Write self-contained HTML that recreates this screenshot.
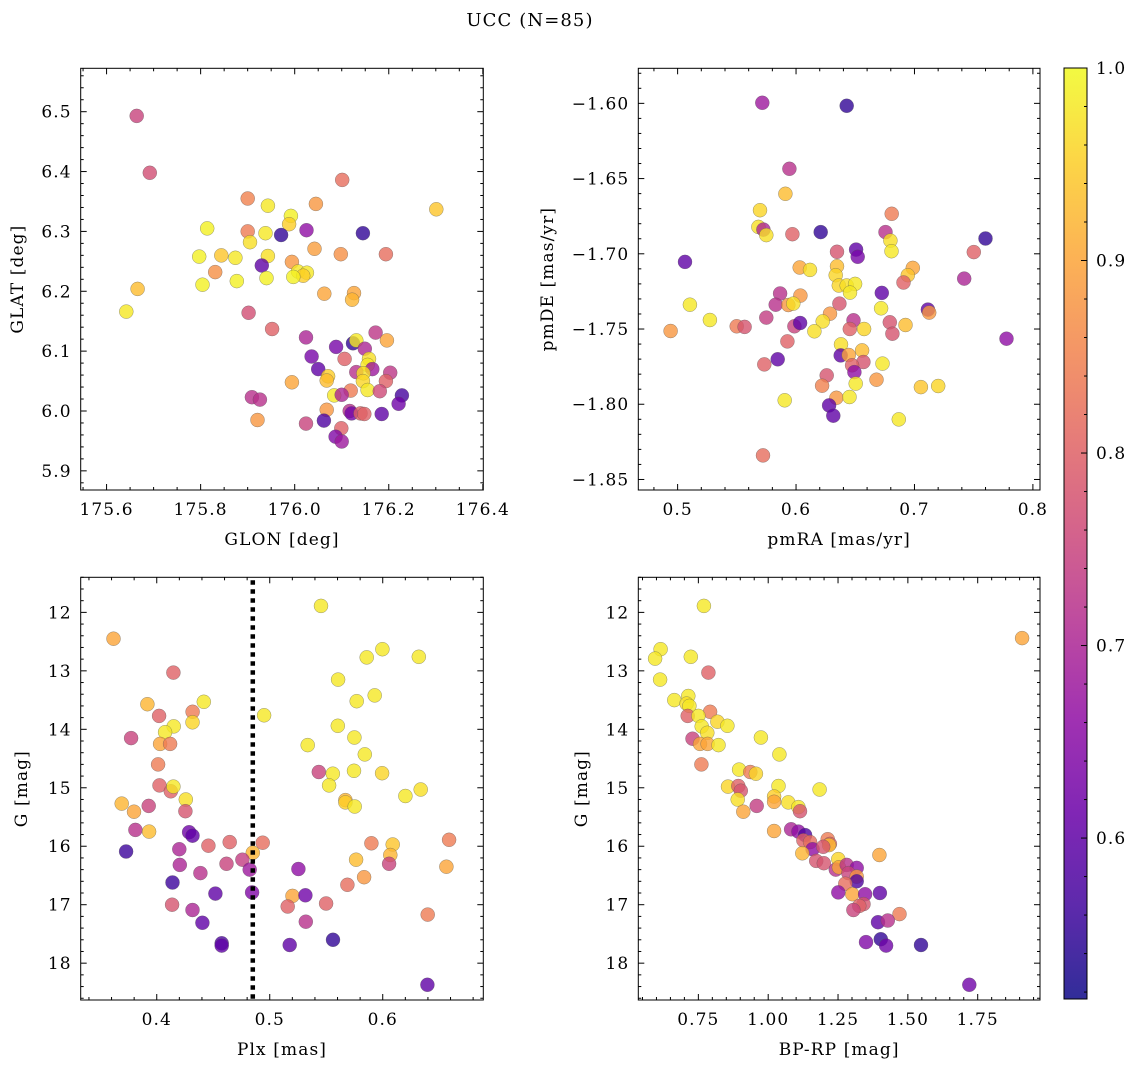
<!DOCTYPE html>
<html><head><meta charset="utf-8"><style>
html,body{margin:0;padding:0;background:#fff;}
svg{display:block;font-family:"DejaVu Serif","Liberation Serif",serif;}
svg text{letter-spacing:1.1px;}
</style></head><body>
<svg id="fig" width="1136" height="1067" xmlns="http://www.w3.org/2000/svg">
<text x="530" y="26" font-size="18" text-anchor="middle">UCC (N=85)</text>
</svg>
<script>
// Panel 1: GLON vs GLAT
const p1x=[175.664,175.692,176.101,175.900,175.943,176.045,176.301,175.992,175.988,175.814,176.025,175.900,175.938,175.971,176.145,175.905,176.042,175.797,175.844,175.874,175.943,176.098,176.194,175.930,175.994,175.831,176.007,176.026,176.018,175.997,175.940,175.877,175.804,175.666,176.063,176.126,176.122,175.642,175.902,175.952,176.024,176.172,176.124,176.131,176.196,176.088,176.149,176.036,176.106,176.158,176.155,176.165,176.050,176.131,176.146,176.203,176.071,176.068,176.145,176.194,175.994,176.228,176.155,176.181,176.119,176.084,176.100,175.909,175.926,176.221,176.068,176.117,176.121,176.140,176.148,176.185,175.921,176.024,176.062,176.099,176.087,176.100];
const p1y=[6.493,6.398,6.386,6.355,6.343,6.346,6.337,6.326,6.312,6.305,6.302,6.300,6.297,6.294,6.297,6.282,6.271,6.258,6.260,6.256,6.259,6.262,6.262,6.243,6.249,6.232,6.233,6.231,6.226,6.224,6.222,6.217,6.211,6.204,6.196,6.197,6.186,6.166,6.164,6.137,6.123,6.131,6.113,6.118,6.118,6.107,6.104,6.091,6.087,6.087,6.077,6.070,6.070,6.065,6.063,6.064,6.058,6.051,6.050,6.050,6.048,6.026,6.035,6.033,6.034,6.026,6.027,6.023,6.019,6.012,6.002,6.000,5.996,5.996,5.995,5.995,5.985,5.979,5.984,5.971,5.957,5.949];
const p1c=[0.75,0.77,0.82,0.85,0.98,0.88,0.94,0.99,0.95,0.99,0.66,0.84,0.98,0.55,0.55,0.97,0.89,0.99,0.94,0.98,0.97,0.87,0.82,0.60,0.88,0.87,0.98,0.98,0.95,0.99,0.99,0.99,0.99,0.93,0.90,0.90,0.92,0.98,0.77,0.80,0.70,0.73,0.55,0.98,0.90,0.63,0.70,0.63,0.80,0.97,0.98,0.68,0.60,0.72,0.97,0.73,0.95,0.93,0.96,0.80,0.90,0.57,0.98,0.76,0.84,0.98,0.70,0.72,0.72,0.62,0.88,0.72,0.62,0.80,0.80,0.60,0.88,0.75,0.58,0.80,0.64,0.68];
// Panel 2: pmRA vs pmDE
const p2x=[0.5715,0.6428,0.5944,0.5910,0.5696,0.6808,0.5682,0.5724,0.5749,0.5969,0.6208,0.6755,0.6797,0.7600,0.6806,0.6507,0.6521,0.6346,0.7501,0.5062,0.6031,0.6118,0.6346,0.6335,0.6986,0.6944,0.6907,0.6361,0.6428,0.6499,0.6456,0.7420,0.5865,0.6724,0.5104,0.5828,0.6037,0.5935,0.5977,0.6366,0.6718,0.7113,0.7124,0.5273,0.5749,0.6287,0.6225,0.4941,0.5499,0.5566,0.5986,0.6034,0.6155,0.6485,0.6454,0.6575,0.6792,0.6814,0.6924,0.7777,0.5927,0.6380,0.6377,0.6445,0.6558,0.6569,0.5732,0.5845,0.6473,0.6493,0.6730,0.6259,0.6220,0.6504,0.6679,0.7054,0.7200,0.6341,0.6451,0.5904,0.6279,0.6315,0.6868,0.5721];
const p2y=[-1.5996,-1.6016,-1.6435,-1.6601,-1.6710,-1.6734,-1.6821,-1.6839,-1.6876,-1.6870,-1.6856,-1.6856,-1.6912,-1.6898,-1.6983,-1.6972,-1.7020,-1.6987,-1.6989,-1.7054,-1.7091,-1.7107,-1.7083,-1.7142,-1.7094,-1.7142,-1.7191,-1.7211,-1.7211,-1.7200,-1.7258,-1.7165,-1.7264,-1.7260,-1.7338,-1.7338,-1.7278,-1.7340,-1.7331,-1.7331,-1.7362,-1.7371,-1.7391,-1.7440,-1.7424,-1.7398,-1.7449,-1.7513,-1.7482,-1.7486,-1.7482,-1.7460,-1.7515,-1.7442,-1.7500,-1.7500,-1.7455,-1.7531,-1.7473,-1.7564,-1.7582,-1.7602,-1.7675,-1.7673,-1.7642,-1.7719,-1.7735,-1.7701,-1.7741,-1.7786,-1.7730,-1.7808,-1.7877,-1.7863,-1.7837,-1.7886,-1.7879,-1.7957,-1.7952,-1.7974,-1.8008,-1.8076,-1.8101,-1.8340];
const p2c=[0.68,0.55,0.72,0.93,0.96,0.84,0.97,0.70,0.97,0.80,0.55,0.72,0.97,0.55,0.98,0.60,0.63,0.78,0.80,0.60,0.90,0.97,0.93,0.96,0.90,0.94,0.80,0.96,0.97,0.98,0.98,0.70,0.72,0.60,0.98,0.72,0.88,0.88,0.97,0.78,0.98,0.60,0.88,0.98,0.74,0.88,0.97,0.88,0.84,0.78,0.75,0.60,0.97,0.72,0.80,0.96,0.78,0.78,0.93,0.66,0.80,0.97,0.60,0.90,0.93,0.78,0.80,0.60,0.80,0.66,0.98,0.78,0.85,0.98,0.88,0.94,0.96,0.88,0.98,0.98,0.60,0.60,0.98,0.82];
// Panel 3: Plx vs G
const p3x=[0.5454,0.3617,0.5997,0.5858,0.6319,0.4147,0.5605,0.5929,0.5770,0.3917,0.4416,0.4317,0.4021,0.4950,0.4316,0.4150,0.5602,0.4074,0.3773,0.5749,0.4030,0.4118,0.5336,0.5841,0.4012,0.5434,0.5558,0.5746,0.5994,0.4024,0.5525,0.4124,0.4147,0.6336,0.3690,0.4257,0.5670,0.5670,0.5752,0.6201,0.3929,0.3799,0.4254,0.3811,0.3932,0.4286,0.4316,0.3729,0.4200,0.4457,0.4646,0.4938,0.4850,0.4758,0.4617,0.4204,0.4823,0.4386,0.5254,0.5900,0.6088,0.6067,0.6056,0.5764,0.6587,0.6563,0.5835,0.5687,0.4139,0.4519,0.4844,0.5201,0.5316,0.5159,0.5499,0.4136,0.4316,0.4404,0.5319,0.6398,0.4575,0.4575,0.5177,0.5560,0.6395];
const p3y=[11.89,12.45,12.63,12.77,12.76,13.03,13.15,13.42,13.52,13.57,13.53,13.70,13.77,13.76,13.88,13.95,13.94,14.05,14.15,14.14,14.25,14.25,14.27,14.43,14.60,14.73,14.76,14.71,14.75,14.96,14.96,15.06,14.98,15.03,15.27,15.20,15.21,15.25,15.32,15.14,15.31,15.41,15.40,15.72,15.75,15.76,15.82,16.09,16.05,15.99,15.93,15.94,16.11,16.23,16.30,16.32,16.40,16.46,16.39,15.95,15.97,16.15,16.30,16.23,15.89,16.35,16.53,16.66,16.62,16.81,16.79,16.85,16.84,17.03,16.98,17.00,17.09,17.31,17.29,17.17,17.66,17.70,17.69,17.60,18.37];
const p3c=[0.98,0.90,0.98,0.98,0.98,0.80,0.98,0.98,0.98,0.92,0.98,0.84,0.80,0.98,0.96,0.98,0.98,0.98,0.75,0.98,0.90,0.84,0.98,0.98,0.84,0.75,0.98,0.98,0.96,0.80,0.98,0.80,0.98,0.97,0.92,0.97,0.92,0.95,0.98,0.98,0.75,0.90,0.78,0.72,0.93,0.62,0.60,0.56,0.70,0.80,0.80,0.82,0.92,0.74,0.75,0.70,0.68,0.72,0.66,0.84,0.94,0.92,0.75,0.93,0.84,0.90,0.88,0.82,0.56,0.60,0.64,0.90,0.62,0.80,0.80,0.78,0.70,0.60,0.72,0.84,0.58,0.60,0.60,0.55,0.60];
const plxLine=[0.485];
// Panel 4: BP-RP vs G
const p4x=[0.770,1.909,0.615,0.595,0.723,0.786,0.613,0.664,0.714,0.708,0.718,0.792,0.712,0.750,0.818,0.854,0.762,0.782,0.974,0.729,0.756,0.783,0.822,1.040,0.761,0.896,0.936,0.956,0.856,0.893,0.902,1.037,1.184,0.891,1.021,1.021,1.072,1.108,1.114,0.911,0.959,1.021,1.082,1.108,1.132,1.126,1.150,1.213,1.221,1.218,1.159,1.122,1.197,1.398,1.172,1.199,1.251,1.242,1.253,1.281,1.317,1.287,1.317,1.317,1.276,1.251,1.301,1.347,1.400,1.341,1.326,1.305,1.470,1.393,1.428,1.350,1.403,1.422,1.547,1.720];
const p4y=[11.89,12.44,12.63,12.79,12.76,13.03,13.15,13.50,13.43,13.56,13.60,13.70,13.77,13.77,13.87,13.94,13.95,14.06,14.14,14.16,14.25,14.25,14.27,14.43,14.60,14.69,14.73,14.76,14.98,14.97,15.05,14.97,15.03,15.20,15.15,15.24,15.25,15.33,15.40,15.41,15.31,15.74,15.71,15.75,15.81,15.90,15.93,15.88,15.96,15.98,16.05,16.12,16.01,16.15,16.25,16.29,16.22,16.40,16.36,16.32,16.37,16.46,16.52,16.60,16.64,16.79,16.82,16.82,16.80,16.99,17.02,17.09,17.16,17.30,17.27,17.64,17.59,17.70,17.69,18.37];
const p4c=[0.98,0.90,0.98,0.98,0.98,0.80,0.98,0.98,0.98,0.97,0.98,0.84,0.80,0.98,0.96,0.98,0.98,0.97,0.98,0.75,0.90,0.90,0.98,0.98,0.84,0.98,0.84,0.96,0.96,0.80,0.78,0.98,0.98,0.97,0.95,0.90,0.97,0.98,0.78,0.90,0.74,0.90,0.70,0.66,0.58,0.80,0.82,0.84,0.80,0.93,0.66,0.92,0.78,0.90,0.78,0.78,0.96,0.72,0.90,0.72,0.66,0.75,0.88,0.58,0.82,0.66,0.90,0.66,0.60,0.78,0.80,0.75,0.84,0.60,0.72,0.64,0.55,0.62,0.55,0.62];
// Tick labels
const p1xt=[175.6,175.8,176.0,176.2,176.4];
const p1yt=[5.9,6.0,6.1,6.2,6.3,6.4,6.5];
const p2xt=[0.5,0.6,0.7,0.8];
const p2yt=[-1.85,-1.80,-1.75,-1.70,-1.65,-1.60];
const p3xt=[0.4,0.5,0.6];
const gyt=[12,13,14,15,16,17,18];
const p4xt=[0.75,1.00,1.25,1.50,1.75];
const cbt=[0.6,0.7,0.8,0.9,1.0];

const NS="http://www.w3.org/2000/svg";
const svg=document.getElementById('fig');
const FS=17;
function mk(tag,attrs,parent){const e=document.createElementNS(NS,tag);for(const k in attrs)e.setAttribute(k,attrs[k]);(parent||svg).appendChild(e);return e;}
const stops=[[13,8,135],[65,4,157],[106,0,168],[143,13,164],[177,42,144],[204,71,120],[225,100,98],[242,132,75],[252,166,54],[252,206,37],[240,249,33]];
const cmin=0.5164,cmax=1.0;
function plasma(v){let t=(v-cmin)/(cmax-cmin);t=Math.max(0,Math.min(1,t))*10;const i=Math.min(9,Math.floor(t)),f=t-i;const a=stops[i],b=stops[i+1];return 'rgb('+[0,1,2].map(k=>Math.round(a[k]+(b[k]-a[k])*f)).join(',')+')';}
function fmt(v,d){return (v<0?'\u2212':'')+Math.abs(v).toFixed(d);}

function panel(o){
  const g=mk('g',{});
  
  
  const L=o.box[0],T=o.box[1],R=o.box[2],B=o.box[3];
  const sx=v=>L+(v-o.xr[0])/(o.xr[1]-o.xr[0])*(R-L);
  const sy=v=>o.inv? T+(v-o.yr[0])/(o.yr[1]-o.yr[0])*(B-T) : B-(v-o.yr[0])/(o.yr[1]-o.yr[0])*(B-T);
  const pg=mk('g',{},g);
  
  
  for(let i=0;i<o.x.length;i++){
    const c=mk('circle',{cx:sx(o.x[i]).toFixed(1),cy:sy(o.y[i]).toFixed(1),r:7,fill:plasma(o.c[i]),'fill-opacity':0.8,stroke:'#555','stroke-width':0.5,'stroke-opacity':0.6},pg);
    
    
  }
  if(o.vline){for(const v of o.vline){const l=mk('line',{x1:sx(v),x2:sx(v),y1:T+3,y2:B,stroke:'#000','stroke-width':4.5,'stroke-dasharray':'4.5,4.5'},g);
    
    }}
  const fr=mk('rect',{x:L,y:T,width:R-L,height:B-T,fill:'none',stroke:'#000','stroke-width':1},g);
  
  
  const xmaj=o.xt;const xstep=xmaj[1]-xmaj[0];const xm=xstep/o.xmin;
  for(let v=xmaj[0]-xstep*2;v<=o.xr[1]+1e-9;v+=xm){if(v<o.xr[0]-1e-9)continue;
    const isMaj=xmaj.some(t=>Math.abs(t-v)<xm*0.01);const len=isMaj?6:3;const X=sx(v);
    mk('line',{x1:X,x2:X,y1:B,y2:B-len,stroke:'#000','stroke-width':1},g);
    mk('line',{x1:X,x2:X,y1:T,y2:T+len,stroke:'#000','stroke-width':1},g);}
  for(const t of xmaj){const tx=mk('text',{x:sx(t),y:B+25,'font-size':FS,'text-anchor':'middle'},g);tx.textContent=fmt(t,o.xd);
    
    }
  const ymaj=o.yt;const ystep=ymaj[1]-ymaj[0];const ym=ystep/o.ymin;
  const ylo=Math.min(o.yr[0],o.yr[1]),yhi=Math.max(o.yr[0],o.yr[1]);
  for(let v=ymaj[0]-ystep*2;v<=yhi+1e-9;v+=ym){if(v<ylo-1e-9)continue;
    const isMaj=ymaj.some(t=>Math.abs(t-v)<ym*0.01);const len=isMaj?6:3;const Y=sy(v);
    mk('line',{x1:L,x2:L+len,y1:Y,y2:Y,stroke:'#000','stroke-width':1},g);
    mk('line',{x1:R,x2:R-len,y1:Y,y2:Y,stroke:'#000','stroke-width':1},g);}
  for(const t of ymaj){const tx=mk('text',{x:L-9,y:sy(t)+6,'font-size':FS,'text-anchor':'end'},g);tx.textContent=fmt(t,o.yd);
    
    }
  const xl=mk('text',{x:(L+R)/2,y:B+55,'font-size':FS,'text-anchor':'middle'},g);xl.textContent=o.xlabel;
  
  
  const yl=mk('text',{x:o.ylx,y:(T+B)/2,'font-size':FS,'text-anchor':'middle',transform:'rotate(-90 '+o.ylx+' '+(T+B)/2+')'},g);yl.textContent=o.ylabel;
  
  
}
panel({name:'glon-glat-panel',box:[80.7,68.3,483.3,490],xr:[175.545,176.401],yr:[5.868,6.5725],x:p1x,y:p1y,c:p1c,xt:p1xt,yt:p1yt,xmin:4,ymin:5,xd:1,yd:1,xlabel:'GLON [deg]',ylabel:'GLAT [deg]',ylx:23});
panel({name:'proper-motion-panel',box:[638.3,68.3,1040,490],xr:[0.4668,0.806],yr:[-1.857,-1.5767],x:p2x,y:p2y,c:p2c,xt:p2xt,yt:p2yt,xmin:5,ymin:5,xd:1,yd:2,xlabel:'pmRA [mas/yr]',ylabel:'pmDE [mas/yr]',ylx:553});
panel({name:'parallax-magnitude-panel',box:[80.7,577.3,483.3,1000],xr:[0.3327,0.689],yr:[11.40,18.63],inv:true,x:p3x,y:p3y,c:p3c,xt:p3xt,yt:gyt,xmin:5,ymin:5,xd:1,yd:0,xlabel:'Plx [mas]',ylabel:'G [mag]',ylx:27,vline:plxLine});
panel({name:'color-magnitude-panel',box:[638.3,577.3,1040,1000],xr:[0.535,1.973],yr:[11.40,18.63],inv:true,x:p4x,y:p4y,c:p4c,xt:p4xt,yt:gyt,xmin:5,ymin:5,xd:2,yd:0,xlabel:'BP-RP [mag]',ylabel:'G [mag]',ylx:587});

(function(){
  const L=1064,R=1087,T=68,B=999;
  const g=mk('g',{});
  
  
  const defs=mk('defs',{},g);
  const lg=mk('linearGradient',{id:'cbg',x1:0,y1:1,x2:0,y2:0},defs);
  for(let i=0;i<=20;i++){const v=cmin+(cmax-cmin)*i/20;mk('stop',{offset:(i/20),'stop-color':plasma(v),'stop-opacity':0.85},lg);}
  mk('rect',{x:L,y:T,width:R-L,height:B-T,fill:'url(#cbg)',stroke:'#000','stroke-width':1},g);
  const sy=v=>B-(v-cmin)/(cmax-cmin)*(B-T);
  for(let v=0.52;v<=1.0001;v+=0.02){const Y=sy(v);const maj=cbt.some(t=>Math.abs(t-v)<0.001);
    mk('line',{x1:R,x2:R-(maj?6:3),y1:Y,y2:Y,stroke:'#000','stroke-width':1},g);}
  for(const t of cbt){const tx=mk('text',{x:R+9,y:sy(t)+6,'font-size':FS},g);tx.textContent=t.toFixed(1);
    
    }
})();
</script>
</body></html>
